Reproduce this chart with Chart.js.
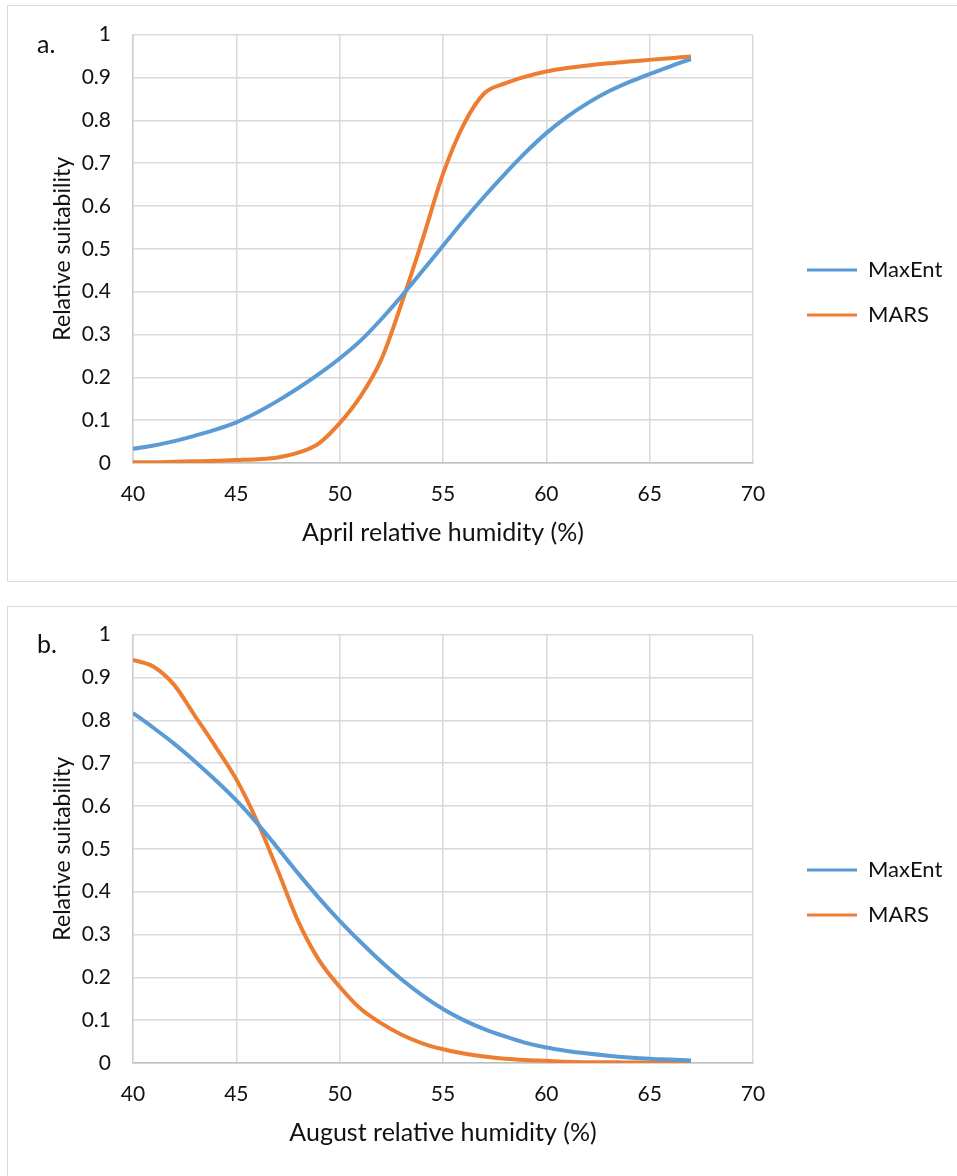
<!DOCTYPE html>
<html><head><meta charset="utf-8">
<script src="https://cdn.jsdelivr.net/npm/chart.js@4.4.1/dist/chart.umd.min.js"></script>
<style>
html,body{margin:0;padding:0;background:#fff;overflow:hidden;width:957px;height:1176px;position:relative;}
.panel{position:absolute;left:7px;width:990px;border:1.5px solid #d9d9d9;box-sizing:border-box;}
#p1{top:5px;height:577px;}
#p2{top:606px;height:620px;}
canvas{position:absolute;left:-150px;}
#c1{top:0;}
#c2{top:600px;}
.lab{position:absolute;left:37px;font-family:Lato;font-size:25px;line-height:30px;color:#111;}
</style></head>
<body>
<div class="panel" id="p1"></div><div class="panel" id="p2"></div>
<canvas id="c1" width="1150" height="580"></canvas>
<canvas id="c2" width="1150" height="580"></canvas>
<div class="lab" style="top:28px">a.</div>
<div class="lab" style="top:628px">b.</div>
<script>
// ---- data ----
const xValues = [40,41,42,43,44,45,46,47,48,49,50,51,52,53,54,55,56,57,58,59,60,61,62,63,64,65,66,67];
const aprilMaxEnt = [0.033,0.041,0.051,0.064,0.078,0.095,0.118,0.145,0.175,0.208,0.244,0.285,0.335,0.39,0.448,0.507,0.566,0.622,0.675,0.725,0.77,0.808,0.84,0.867,0.889,0.908,0.926,0.943];
const aprilMARS   = [0.002,0.002,0.003,0.004,0.005,0.007,0.009,0.013,0.024,0.046,0.093,0.155,0.24,0.373,0.52,0.675,0.79,0.863,0.886,0.902,0.914,0.922,0.928,0.933,0.937,0.941,0.945,0.949];
const augustMaxEnt = [0.817,0.782,0.745,0.704,0.66,0.613,0.56,0.502,0.442,0.385,0.332,0.283,0.237,0.195,0.158,0.126,0.1,0.079,0.062,0.047,0.036,0.028,0.022,0.017,0.013,0.01,0.008,0.006];
const augustMARS   = [0.941,0.925,0.882,0.81,0.738,0.662,0.565,0.45,0.33,0.24,0.178,0.127,0.093,0.066,0.046,0.032,0.022,0.015,0.01,0.007,0.005,0.003,0.002,0.002,0.001,0.001,0.001,0.001];
const seriesNames = ['MaxEnt','MARS'];
const seriesColors = ['#5B9BD5','#ED7D31'];
const xTickStep = 5, xMin = 40, xMax = 70;
const yTickStep = 0.1, yMin = 0, yMax = 1;
const yTitle = 'Relative suitability';

const FONT = 'Lato';
const TXT = '#111';
const LEG_FS = 22, LEG_PAD = 23, LEG_LINE = 50;
const CW = 1150, SHIFT = 150;

function legendWidth(){
  const c = document.createElement('canvas').getContext('2d');
  c.font = LEG_FS + 'px ' + FONT;
  const w = Math.max(...seriesNames.map(s => c.measureText(s).width));
  return LEG_PAD + (LEG_LINE + LEG_FS/2 + w) + 10;
}
const legendLeft = 807 + SHIFT - LEG_PAD;
const padRight = CW - (legendLeft + legendWidth());

function pts(arr){ return xValues.map((x,i)=>({x:x, y:arr[i]})); }

function make(id, a, b, xTitle){
  new Chart(document.getElementById(id), {
    type:'line',
    data:{datasets:[
      {label:seriesNames[0], data:pts(a), borderColor:seriesColors[0], backgroundColor:seriesColors[0], borderWidth:4, pointRadius:0, cubicInterpolationMode:'monotone', fill:false},
      {label:seriesNames[1], data:pts(b), borderColor:seriesColors[1], backgroundColor:seriesColors[1], borderWidth:4, pointRadius:0, cubicInterpolationMode:'monotone', fill:false}
    ]},
    options:{
      responsive:false, animation:false, devicePixelRatio:1,
      layout:{padding:{left:0, top:34, right:padRight, bottom:29}},
      plugins:{
        tooltip:{enabled:false},
        legend:{position:'right', align:'center',
          labels:{usePointStyle:true, pointStyle:'line', pointStyleWidth:LEG_LINE, padding:LEG_PAD,
            font:{family:FONT, size:LEG_FS}, color:TXT,
            generateLabels:(chart)=>Chart.defaults.plugins.legend.labels.generateLabels(chart).map(l=>Object.assign(l,{lineWidth:3}))}}
      },
      scales:{
        x:{type:'linear', min:xMin, max:xMax,
          ticks:{stepSize:xTickStep, font:{family:FONT,size:21}, color:TXT, padding:19, maxRotation:0, autoSkip:false},
          grid:{color:'#d9d9d9', lineWidth:1.5, drawTicks:false},
          border:{color:'#bfbfbf', width:1.5},
          title:{display:true, text:xTitle, font:{family:FONT,size:25}, color:TXT, padding:{top:0,bottom:3}},
          afterFit(s){ s.height = 88; }},
        y:{min:yMin, max:yMax,
          ticks:{stepSize:yTickStep, font:{family:FONT,size:21}, color:TXT, padding:22, callback:v=>String(Math.round(v*10)/10)},
          grid:{color:'#d9d9d9', lineWidth:1.5, drawTicks:false},
          border:{color:'#cfcfcf', width:1.5},
          title:{display:true, text:yTitle, font:{family:FONT,size:23}, color:TXT, padding:{top:63 + SHIFT - 14,bottom:0}},
          afterFit(s){ s.width = 133 + SHIFT; }},
        y2:{position:'right', min:yMin, max:yMax, grid:{display:false, drawTicks:false}, border:{display:false}, ticks:{display:false},
          afterFit(s){ s.width = legendLeft - (753 + SHIFT); }}
      }
    }
  });
}
make('c1', aprilMaxEnt, aprilMARS, 'April relative humidity (%)');
make('c2', augustMaxEnt, augustMARS, 'August relative humidity (%)');
</script>
</body></html>
